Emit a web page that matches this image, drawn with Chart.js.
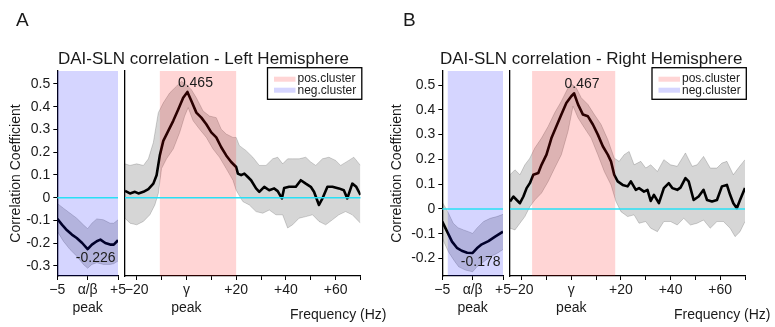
<!DOCTYPE html>
<html><head><meta charset="utf-8">
<script src="https://cdn.jsdelivr.net/npm/chart.js@4.4.1/dist/chart.umd.min.js"></script>
<style>
html,body{margin:0;padding:0;background:#fff;}
#fig{position:relative;width:775px;height:327px;overflow:hidden;font-family:"Liberation Sans",Arial,Helvetica,sans-serif;color:#1a1a1a;}
#fig canvas{position:absolute;left:0;top:0;}
.t{position:absolute;white-space:nowrap;line-height:1;}
</style></head><body>
<div id="fig">
<canvas id="cA1" width="775" height="327"></canvas>
<canvas id="cA2" width="775" height="327"></canvas>
<canvas id="cB1" width="775" height="327"></canvas>
<canvas id="cB2" width="775" height="327"></canvas>
<div class="t" style="left:16px;top:10px;font-size:19px">A</div>
<div class="t" style="left:403px;top:10px;font-size:19px">B</div>
<div class="t" style="left:58px;top:49.5px;font-size:17px">DAI-SLN correlation - Left Hemisphere</div>
<div class="t" style="left:440px;top:49.5px;font-size:17px">DAI-SLN correlation - Right Hemisphere</div>
<div class="t" style="left:290px;top:307px;font-size:14px">Frequency (Hz)</div>
<div class="t" style="left:674px;top:307px;font-size:14px">Frequency (Hz)</div>
</div>
<script>
// ---------- tick labels ----------
const abTicks = [-5, 0, 5];
const abTickLabels = ['\u22125', ['\u03b1/\u03b2', 'peak'], '+5'];
const gTicks = [-20, -10, 0, 10, 20, 30, 40, 50, 60, 70];
const gTickLabels = ['\u221220', '', ['\u03b3', 'peak'], '', '+20', '', '+40', '', '+60', ''];
const yTicksA = [-0.3, -0.2, -0.1, 0, 0.1, 0.2, 0.3, 0.4, 0.5];
const yTickLabelsA = ['-0.3', '-0.2', '-0.1', '0', '0.1', '0.2', '0.3', '0.4', '0.5'];
const yTicksB = [-0.2, -0.1, 0, 0.1, 0.2, 0.3, 0.4, 0.5];
const yTickLabelsB = ['-0.2', '-0.1', '0', '0.1', '0.2', '0.3', '0.4', '0.5'];
const legendLabels = ['pos.cluster', 'neg.cluster'];

// ---------- Panel A (left hemisphere) ----------
const abFreqA = [-5, -4.2, -3.4, -2.6, -1.8, -0.9, 0, 0.7, 1.5, 2.1, 2.9, 3.7, 4.3, 5];
const abMeanA = [-0.093, -0.119, -0.143, -0.162, -0.177, -0.199, -0.226, -0.206, -0.191, -0.184, -0.199, -0.206, -0.206, -0.187];
const abUpFreqA = [-5, -4, -2.9, -1.8, -0.7, 0, 0.7, 1.5, 2.6, 3.7, 4.3, 5];
const abUpperA = [-0.025, -0.046, -0.068, -0.09, -0.119, -0.136, -0.112, -0.093, -0.097, -0.112, -0.112, -0.097];
const abLoFreqA = [-5, -4, -2.9, -1.8, -0.7, 0, 0.7, 1.5, 2.6, 3.7, 4.3, 5];
const abLowerA = [-0.148, -0.191, -0.228, -0.257, -0.293, -0.31, -0.293, -0.286, -0.293, -0.293, -0.29, -0.278];

const gFreqA = [-24.7, -22.7, -20.7, -19.3, -17.3, -15.3, -13.3, -12, -10.7, -9.3, -7.3, -5.3, -3.3, -1.3, 0.4, 2, 4, 6, 8, 10, 12, 14, 16, 18, 20, 20.7, 22, 23.3, 24.7, 26, 28, 29.3, 31.3, 33.3, 35.3, 36.7, 38.4, 39.3, 41.3, 44, 46, 48, 50, 51.3, 53.3, 54.7, 56.7, 58.7, 61.3, 63.3, 64.7, 66.7, 68.3, 70];
const gMeanA = [0.03, 0.019, 0.026, 0.019, 0.026, 0.038, 0.062, 0.099, 0.186, 0.25, 0.294, 0.338, 0.388, 0.439, 0.465, 0.425, 0.374, 0.352, 0.323, 0.287, 0.265, 0.222, 0.186, 0.157, 0.135, 0.106, 0.099, 0.106, 0.091, 0.077, 0.041, 0.026, 0.048, 0.033, 0.041, 0.029, -0.003, 0.043, 0.048, 0.048, 0.077, 0.062, 0.048, 0.026, -0.032, -0.003, 0.048, 0.048, 0.041, 0.033, -0.003, 0.062, 0.048, 0.012];
const gUpFreqA = [-24.7, -22.7, -20, -17.3, -15.3, -13.3, -11.3, -9.3, -6.7, -4, -2, 0, 2, 4, 6.7, 9.3, 12, 14, 16, 18.7, 20, 21.3, 24, 26.7, 29.3, 32, 34.7, 36.7, 38.7, 40.7, 42.7, 45.3, 48, 50, 52, 54.7, 57.3, 60, 62, 65.3, 67.3, 70];
const gUpperA = [0.149, 0.142, 0.149, 0.142, 0.171, 0.243, 0.374, 0.417, 0.461, 0.49, 0.512, 0.497, 0.475, 0.439, 0.381, 0.359, 0.352, 0.301, 0.28, 0.265, 0.265, 0.229, 0.207, 0.178, 0.142, 0.142, 0.171, 0.178, 0.149, 0.171, 0.171, 0.171, 0.178, 0.157, 0.142, 0.171, 0.178, 0.164, 0.142, 0.164, 0.178, 0.142];
const gLoFreqA = [-24.7, -22.7, -20, -17.3, -14.7, -12.7, -11.3, -10, -8, -5.3, -2.7, -0.7, 0.7, 2.7, 5.3, 8, 10.7, 13.3, 16, 18.7, 20, 22.7, 25.3, 28, 30.7, 33.3, 36, 38.7, 40.7, 42.7, 45.3, 48, 50.7, 53.3, 56, 58.7, 61.3, 64, 66.7, 70];
const gLowerA = [-0.09, -0.112, -0.119, -0.104, -0.075, -0.032, 0.019, 0.128, 0.171, 0.214, 0.287, 0.359, 0.396, 0.338, 0.301, 0.265, 0.214, 0.178, 0.128, 0.077, 0.033, -0.017, -0.032, -0.061, -0.068, -0.054, -0.075, -0.075, -0.133, -0.119, -0.09, -0.083, -0.075, -0.104, -0.119, -0.097, -0.075, -0.061, -0.075, -0.112];
const posClusterA = [-10.7, 20];
const negClusterA = [-5, 5];
const peakLabelA = '0.465';
const troughLabelA = '-0.226';

// ---------- Panel B (right hemisphere) ----------
const abFreqB = [-5, -4.2, -3.4, -2.6, -1.8, -0.9, 0, 0.7, 1.5, 2.6, 3.7, 5];
const abMeanB = [-0.051, -0.092, -0.132, -0.157, -0.169, -0.177, -0.178, -0.159, -0.143, -0.13, -0.112, -0.092];
const abUpFreqB = [-5, -4.1, -3.2, -2.4, -1.5, -0.7, 0, 0.7, 1.8, 2.9, 4, 5];
const abUpperB = [0.027, -0.011, -0.058, -0.076, -0.085, -0.092, -0.099, -0.078, -0.051, -0.038, -0.031, -0.022];
const abLoFreqB = [-5, -4, -3.1, -2.3, -1.2, 0, 0.7, 1.8, 2.9, 4, 5];
const abLowerB = [-0.119, -0.173, -0.207, -0.234, -0.247, -0.254, -0.234, -0.214, -0.193, -0.18, -0.164];

const gFreqB = [-24.7, -23.3, -22, -20.7, -19.3, -18, -16.7, -15.3, -13.3, -12, -10, -8, -6, -4, -2, 0, 1.1, 2.7, 4.7, 6.7, 8.7, 10.7, 12.7, 14.7, 16, 17.3, 18.7, 20.7, 22.7, 24, 26, 27.3, 29.3, 30.7, 32, 33.3, 35.3, 37.3, 39.3, 40.7, 42.7, 44, 46, 47.3, 49.3, 51.3, 53.3, 54.7, 56.7, 58.7, 60.7, 62.7, 64, 65.3, 66.7, 68, 70];
const gMeanB = [0.03, 0.05, 0.036, 0.023, 0.05, 0.084, 0.104, 0.138, 0.145, 0.178, 0.219, 0.286, 0.334, 0.381, 0.428, 0.455, 0.467, 0.422, 0.381, 0.374, 0.341, 0.3, 0.253, 0.219, 0.192, 0.138, 0.111, 0.097, 0.091, 0.111, 0.077, 0.084, 0.07, 0.077, 0.032, 0.057, 0.023, 0.084, 0.104, 0.084, 0.077, 0.086, 0.124, 0.111, 0.036, 0.05, 0.077, 0.036, 0.03, 0.036, 0.091, 0.097, 0.057, 0.023, 0.003, 0.036, 0.084];
const gUpFreqB = [-24.7, -22.7, -20.7, -18.7, -16.7, -14.7, -12, -9.3, -6.7, -4, -1.3, 0, 2, 4, 6.7, 9.3, 12, 14.7, 17.3, 19.3, 21.3, 23.3, 25.3, 28, 30, 32, 34.7, 37.3, 40, 42.7, 46, 48.7, 50.7, 53.3, 56, 58.7, 60.7, 62.7, 65.3, 67.3, 70];
const gUpperB = [0.138, 0.158, 0.138, 0.178, 0.205, 0.246, 0.286, 0.334, 0.388, 0.435, 0.489, 0.505, 0.489, 0.449, 0.422, 0.381, 0.341, 0.28, 0.205, 0.192, 0.219, 0.232, 0.178, 0.192, 0.165, 0.178, 0.151, 0.199, 0.178, 0.172, 0.226, 0.172, 0.178, 0.212, 0.165, 0.165, 0.185, 0.192, 0.138, 0.165, 0.199];
const gLoFreqB = [-24.7, -22.7, -20.7, -18.7, -16.7, -14.7, -12, -9.3, -6.7, -4, -1.3, 0.7, 2.7, 5.3, 8, 10.7, 13.3, 16, 18, 20, 22.7, 25.3, 27.3, 30, 32, 34.7, 37.3, 40, 42.7, 45.3, 48, 50.7, 53.3, 56, 58.7, 61.3, 64, 66, 68, 70];
const gLowerB = [-0.078, -0.085, -0.058, -0.031, 0.009, 0.036, 0.064, 0.111, 0.165, 0.219, 0.314, 0.415, 0.368, 0.327, 0.286, 0.219, 0.151, 0.097, 0.03, -0.011, -0.031, -0.024, -0.058, -0.051, -0.078, -0.092, -0.051, -0.051, -0.065, -0.038, -0.065, -0.058, -0.045, -0.078, -0.051, -0.051, -0.078, -0.112, -0.092, -0.051];
const posClusterB = [-15.8, 17.7];
const negClusterB = [-4.1, 5];
const peakLabelB = '0.467';
const troughLabelB = '-0.178';

// ---------- styling ----------
const FONT = '"Liberation Sans", Arial, Helvetica, sans-serif';
const TXT = '#1a1a1a';
const PINK = 'rgba(255,0,0,0.165)';
const BLUE = 'rgba(0,0,255,0.165)';
const BAND_FILL = 'rgba(0,0,0,0.16)';
const BAND_EDGE = 'rgba(0,0,0,0.22)';
const CYAN = 'rgb(40,224,245)';

const pts = (f, v) => f.map((x, i) => ({x: x, y: v[i]}));
function series(f, m, fu, u, fl, l) {
  return [
    {data: pts(f, m), borderColor: '#000', borderWidth: 2.6, pointRadius: 0, fill: false, tension: 0, borderJoinStyle: 'round'},
    {data: pts(fu, u), borderColor: BAND_EDGE, borderWidth: 0.8, pointRadius: 0, fill: false, tension: 0},
    {data: pts(fl, l), borderColor: BAND_EDGE, borderWidth: 0.8, pointRadius: 0, fill: 1, backgroundColor: BAND_FILL, tension: 0}
  ];
}

const overlayPlugin = {
  id: 'overlays',
  afterDatasetsDraw(chart, args, o) {
    const ctx = chart.ctx, a = chart.chartArea, x = chart.scales.x, y = chart.scales.y;
    ctx.save();
    o.bands.forEach(b => {
      const x0 = Math.max(a.left, x.getPixelForValue(b.range[0]));
      const x1 = Math.min(a.right, x.getPixelForValue(b.range[1]));
      ctx.fillStyle = b.color;
      ctx.fillRect(x0, a.top, x1 - x0, a.bottom - a.top);
    });
    const y0 = y.getPixelForValue(0);
    ctx.strokeStyle = CYAN; ctx.lineWidth = 1.5;
    ctx.beginPath(); ctx.moveTo(a.left, y0); ctx.lineTo(a.right, y0); ctx.stroke();
    const data = chart.data.datasets[0].data;
    let best = data[0];
    data.forEach(p => { if (o.mode === 'max' ? p.y > best.y : p.y < best.y) best = p; });
    const px = x.getPixelForValue(best.x), py = y.getPixelForValue(best.y);
    ctx.fillStyle = TXT; ctx.font = '14px ' + FONT; ctx.textAlign = 'center'; ctx.textBaseline = 'alphabetic';
    ctx.fillText(o.label, px + 8, o.mode === 'max' ? py - 5 : py + 13);
    if (o.legend) {
      const r = a.right, t = a.top;
      ctx.fillStyle = '#fff'; ctx.fillRect(r - 93, t - 3.3, 94.3, 31.6);
      ctx.strokeStyle = '#000'; ctx.lineWidth = 1.3; ctx.strokeRect(r - 93, t - 3.3, 94.3, 31.6);
      ctx.fillStyle = 'rgb(255,213,213)'; ctx.fillRect(r - 86.5, t + 5.7, 21.5, 5);
      ctx.fillStyle = 'rgb(213,213,255)'; ctx.fillRect(r - 86.5, t + 16.7, 21.5, 5);
      ctx.fillStyle = TXT; ctx.font = '12px ' + FONT; ctx.textAlign = 'left'; ctx.textBaseline = 'middle';
      ctx.fillText(legendLabels[0], r - 63, t + 8);
      ctx.fillText(legendLabels[1], r - 63, t + 19.5);
    }
    ctx.restore();
  }
};

const tickFont = {family: FONT, size: 14, lineHeight: 1.3};

function smallChart(id, p) {
  return new Chart(document.getElementById(id), {
    type: 'line',
    data: {datasets: series(p.f, p.m, p.fu, p.u, p.fl, p.l)},
    options: {
      responsive: false, animation: false, events: [],
      layout: {padding: {left: p.left, right: 775 - p.right, top: 71, bottom: 0}},
      plugins: {legend: {display: false}, tooltip: {enabled: false},
        overlays: {bands: [{range: p.neg, color: BLUE}], label: p.label, mode: 'min'}},
      scales: {
        x: {type: 'linear', min: -5, max: 5,
          afterBuildTicks: s => { s.ticks = abTicks.map(v => ({value: v})); },
          afterFit: s => { s.height = 51; },
          ticks: {autoSkip: false, maxRotation: 0, padding: 1, color: TXT, font: tickFont, callback: (v, i) => abTickLabels[i]},
          grid: {drawOnChartArea: false, tickLength: 4, color: '#000', lineWidth: 1},
          border: {color: '#000', width: 1.2}},
        y: {type: 'linear', min: p.ymin, max: p.ymax,
          afterBuildTicks: s => { s.ticks = p.yTicks.map(v => ({value: v})); },
          afterFit: s => { s.width = p.axisW; },
          ticks: {padding: 3, color: TXT, font: {family: FONT, size: 14}, callback: (v, i) => p.yLabels[i]},
          grid: {drawOnChartArea: false, tickLength: 4, color: '#000', lineWidth: 1},
          border: {color: '#000', width: 1.3},
          title: {display: true, text: 'Correlation Coefficient', color: TXT, font: {family: FONT, size: 14, lineHeight: 1.2}, padding: {top: p.titlePad, bottom: 0}}}
      }
    },
    plugins: [overlayPlugin]
  });
}

function bigChart(id, p) {
  return new Chart(document.getElementById(id), {
    type: 'line',
    data: {datasets: series(p.f, p.m, p.fu, p.u, p.fl, p.l)},
    options: {
      responsive: false, animation: false, events: [],
      layout: {padding: {left: p.left, right: 775 - p.right, top: 71, bottom: 0}},
      plugins: {legend: {display: false}, tooltip: {enabled: false},
        overlays: {bands: [{range: p.pos, color: PINK}], label: p.label, mode: 'max', legend: true}},
      scales: {
        x: {type: 'linear', min: -24.7, max: 70,
          afterBuildTicks: s => { s.ticks = gTicks.map(v => ({value: v})); },
          afterFit: s => { s.height = 51; },
          ticks: {autoSkip: false, maxRotation: 0, padding: 1, color: TXT, font: tickFont, callback: (v, i) => gTickLabels[i]},
          grid: {drawOnChartArea: false, tickLength: 4, color: '#000', lineWidth: 1},
          border: {color: '#000', width: 1.2}},
        y: {type: 'linear', min: p.ymin, max: p.ymax,
          afterFit: s => { s.width = 0; },
          ticks: {display: false},
          grid: {display: false},
          border: {color: '#000', width: 1.3}}
      }
    },
    plugins: [overlayPlugin]
  });
}

smallChart('cA1', {f: abFreqA, m: abMeanA, fu: abUpFreqA, u: abUpperA, fl: abLoFreqA, l: abLowerA,
  left: 0, right: 118, axisW: 57.3, ymin: -0.344, ymax: 0.557, yTicks: yTicksA, yLabels: yTickLabelsA,
  neg: negClusterA, label: troughLabelA, titlePad: 8});
bigChart('cA2', {f: gFreqA, m: gMeanA, fu: gUpFreqA, u: gUpperA, fl: gLoFreqA, l: gLowerA,
  left: 125, right: 360.5, ymin: -0.344, ymax: 0.557, pos: posClusterA, label: peakLabelA});
smallChart('cB1', {f: abFreqB, m: abMeanB, fu: abUpFreqB, u: abUpperB, fl: abLoFreqB, l: abLowerB,
  left: 385, right: 503, axisW: 57.3, ymin: -0.271, ymax: 0.557, yTicks: yTicksB, yLabels: yTickLabelsB,
  neg: negClusterB, label: troughLabelB, titlePad: 4});
bigChart('cB2', {f: gFreqB, m: gMeanB, fu: gUpFreqB, u: gUpperB, fl: gLoFreqB, l: gLowerB,
  left: 510, right: 745, ymin: -0.271, ymax: 0.557, pos: posClusterB, label: peakLabelB});
</script>
</body></html>
